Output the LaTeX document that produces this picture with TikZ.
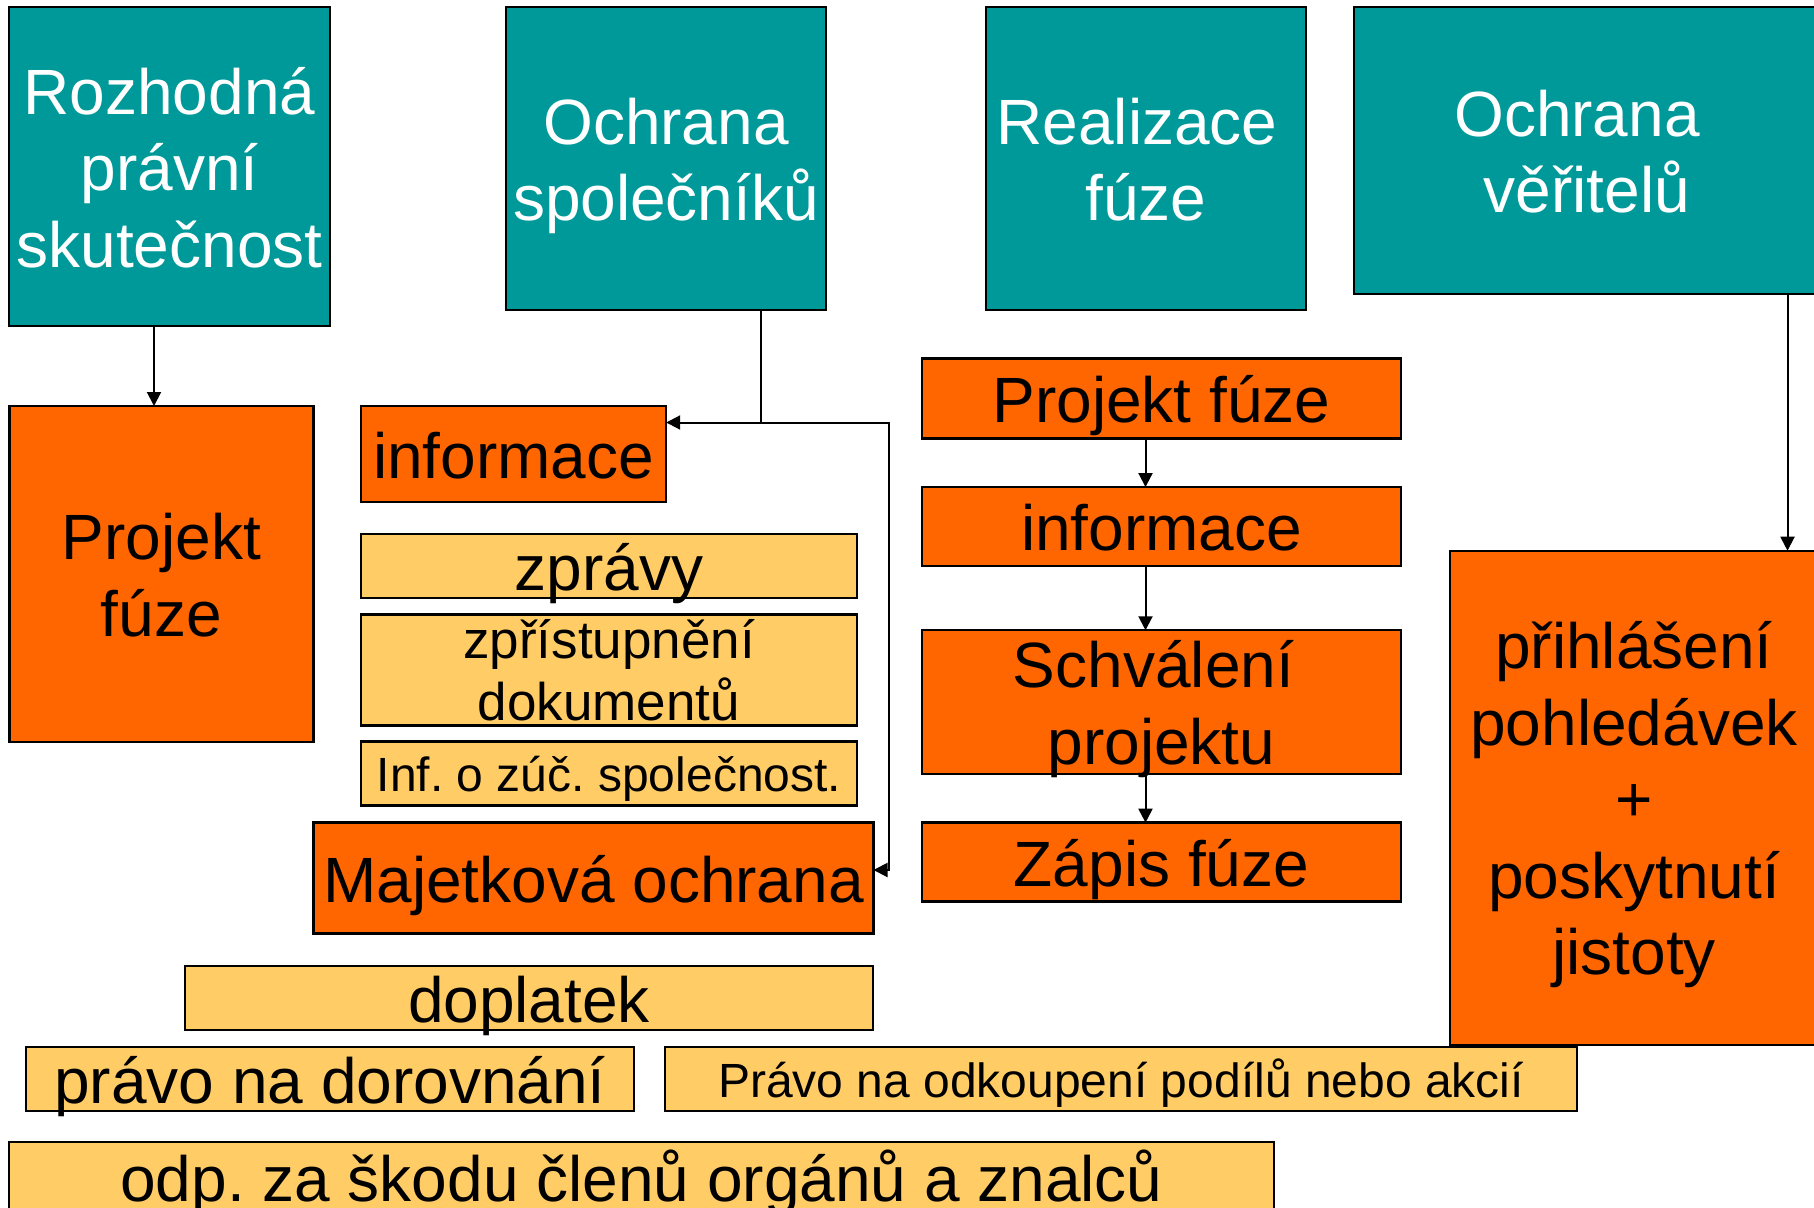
\documentclass[tikz,border=0pt]{standalone}
\usepackage{fontspec}
\setmainfont{Liberation Sans}
\usetikzlibrary{arrows.meta}
\frenchspacing

\definecolor{tealfill}{RGB}{0,153,153}
\definecolor{orangefill}{RGB}{255,102,0}
\definecolor{yellowfill}{RGB}{255,204,102}

% stacked lines of a box, baseline on the first line
\newcommand{\boxlines}[1]{\begin{tabular}[t]{@{}c@{}}#1\end{tabular}}

\tikzset{
    basebox/.style={draw=black, line width=2.4pt, inner sep=0pt, outer sep=0pt,
        font=\fontsize{64}{76.5}\selectfont, text height=48pt, text depth=0pt},
    tealbox/.style={basebox, fill=tealfill, text=white},
    orangebox/.style={basebox, fill=orangefill},
    yellowbox/.style={basebox, fill=yellowfill},
    smalltext/.style={font=\fontsize{48}{58}\selectfont, text height=36pt},
    % vertical placement of boxes with two, three or five lines
    twolines/.style={text height=0pt, text depth=28.5pt},
    threelines/.style={text height=0pt, text depth=105pt},
    fivelines/.style={text height=0pt, text depth=258pt},
    arr/.style={line width=2pt, -{Triangle[length=14pt,width=14pt]}},
    link/.style={line width=2pt}
}

\begin{document}
\begin{tikzpicture}[x=1pt, y=-1pt]
        % fix the page size
        \useasboundingbox (0,0) rectangle (1814,1207);
        % four teal headings
        \node[tealbox, threelines, minimum width=321, minimum height=319] (roz) at (169.5,166.5) {\boxlines{Rozhodná\\právní\\skutečnost}};
        \node[tealbox, twolines, minimum width=320, minimum height=303] (spol) at (666,158.5) {\boxlines{Ochrana\\společníků}};
        \node[tealbox, twolines, minimum width=320, minimum height=303] (real) at (1146,158.5) {\boxlines{Realizace\hspace*{18pt}\\fúze}};
        \node[tealbox, twolines, minimum width=466, minimum height=287] (ver) at (1587,150.5) {\boxlines{Ochrana\hspace*{20pt}\\věřitelů}};
        % first column
        \node[orangebox, twolines, minimum width=304, minimum height=336] (pf1) at (161.4,574) {\boxlines{Projekt\\fúze}};
        % second column: protection of the partners
        \node[orangebox, minimum width=305, minimum height=96] (info1) at (513.7,454) {informace};
        \node[yellowbox, minimum width=496, minimum height=63.6] (zpravy) at (609,566) {zprávy};
        \node[yellowbox, font=\fontsize{53}{62}\selectfont, text height=0pt, text depth=23pt, minimum width=496, minimum height=111] (zpris) at (609,670) {\boxlines{zpřístupnění\\dokumentů}};
        \node[yellowbox, smalltext, minimum width=496, minimum height=63.7] (inf) at (609,773.5) {Inf. o zúč. společnost.};
        \node[orangebox, minimum width=560, minimum height=111] (maj) at (593.5,878) {Majetková ochrana};
        \node[yellowbox, minimum width=688, minimum height=63.7] (dopl) at (529,998) {doplatek};
        \node[yellowbox, minimum width=608.5, minimum height=63.7] (dorov) at (330,1079) {právo na dorovnání};
        \node[yellowbox, smalltext, minimum width=912, minimum height=63.7] (odkup) at (1121,1079) {Právo na odkoupení podílů nebo akcií};
        \node[yellowbox, minimum width=1264.5, minimum height=70] (odp) at (641.5,1177) {odp. za škodu členů orgánů a znalců};
        % third column: steps of the merger
        \node[orangebox, minimum width=479, minimum height=80] (pf2) at (1161.5,398.6) {Projekt fúze};
        \node[orangebox, minimum width=479, minimum height=78.7] (info2) at (1161.5,526.4) {informace};
        \node[orangebox, twolines, minimum width=479, minimum height=143.5] (schval) at (1161.5,702) {\boxlines{Schválení\hspace*{16pt}\\projektu}};
        \node[orangebox, minimum width=479, minimum height=78.7] (zapis) at (1161.5,862) {Zápis fúze};
        % fourth column
        \node[orangebox, fivelines, minimum width=368, minimum height=494] (prihl) at (1634,797.7) {\boxlines{přihlášení\\pohledávek\\+\\poskytnutí\\jistoty}};
        % connectors
        \draw[arr] ([xshift=-15.5pt]roz.south) -- ([xshift=-15.5pt]roz.south |- pf1.north);
        \coordinate (split) at (761,422.5);
        \coordinate (bend) at (889,422.5);
        \draw[link] (split |- spol.south) -- (split);
        \draw[arr] (split) -- (split -| info1.east);
        \draw[arr] (split) -- (bend) |- ([yshift=8pt]maj.east);
        \draw[arr] ([xshift=-16pt]pf2.south) -- ([xshift=-16pt]info2.north);
        \draw[arr] ([xshift=-16pt]info2.south) -- ([xshift=-16pt]schval.north);
        \draw[arr] ([xshift=-16pt]schval.south) -- ([xshift=-16pt]zapis.north);
        \draw[arr] ([xshift=200.5pt]ver.south) -- ([xshift=200.5pt]ver.south |- prihl.north);
    \end{tikzpicture}
\end{document}
